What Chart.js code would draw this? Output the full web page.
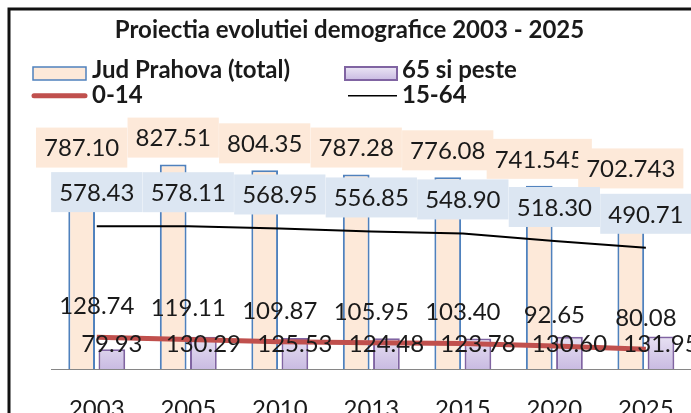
<!DOCTYPE html>
<html>
<head>
<meta charset="utf-8">
<script src="https://cdn.jsdelivr.net/npm/chart.js@4.4.1/dist/chart.umd.min.js"></script>
<style>
    html, body { margin: 0; padding: 0; background: #fff; overflow: hidden; }
    #wrap { position: relative; width: 700px; height: 422px; }
</style>
</head>
<body>
<div id="wrap"><canvas id="demoChart"></canvas></div>
<script>
// data
const years = ['2003', '2005', '2010', '2013', '2015', '2020', '2025'];
const totalJud = [787.10, 827.51, 804.35, 787.28, 776.08, 741.545, 702.743];
const age65plus = [79.93, 130.29, 125.53, 124.48, 123.78, 130.60, 131.95];
const age0to14 = [128.74, 119.11, 109.87, 105.95, 103.40, 92.65, 80.08];
const age15to64 = [578.43, 578.11, 568.95, 556.85, 548.90, 518.30, 490.71];

const textColor = '#1a1a1a';

// keep at least two decimals, more if the value has them
const fmt = (v) => {
    const dec = (String(v).split('.')[1] || '').length;
    return v.toFixed(Math.max(2, dec));
};

const purpleFill = (c) => {
    const area = c.chart.chartArea;
    if (!area) return '#d9cfea';
    const g = c.chart.ctx.createLinearGradient(0, area.bottom - 36, 0, area.bottom);
    g.addColorStop(0, '#ebe5f5');
    g.addColorStop(1, '#c9bbe2');
    return g;
};

// frame, title and legend
const framePlugin = {
    id: 'frame',
    afterDraw(chart) {
        const ctx = chart.ctx;
        ctx.save();

        ctx.fillStyle = textColor;
        ctx.font = 'bold 24px Lato';
        ctx.textAlign = 'center';
        ctx.textBaseline = 'alphabetic';
        ctx.fillText('Proiectia evolutiei demografice 2003 - 2025', 349.5, 38);

        // legend row 1
        ctx.fillStyle = '#fde9d9';
        ctx.fillRect(33, 67, 53, 13);
        ctx.strokeStyle = '#4f81bd';
        ctx.lineWidth = 1.5;
        ctx.strokeRect(33, 67, 53, 13);

        const lg = ctx.createLinearGradient(0, 67, 0, 80);
        lg.addColorStop(0, '#ebe5f5');
        lg.addColorStop(1, '#c9bbe2');
        ctx.fillStyle = lg;
        ctx.fillRect(345, 67, 52, 13);
        ctx.strokeStyle = '#8064a2';
        ctx.lineWidth = 2;
        ctx.strokeRect(345, 67, 52, 13);

        // legend row 2
        ctx.lineCap = 'round';
        ctx.strokeStyle = '#c0504d';
        ctx.lineWidth = 5;
        ctx.beginPath();
        ctx.moveTo(34, 95.7);
        ctx.lineTo(85, 95.7);
        ctx.stroke();

        ctx.lineCap = 'butt';
        ctx.strokeStyle = '#000';
        ctx.lineWidth = 1.5;
        ctx.beginPath();
        ctx.moveTo(348, 95.7);
        ctx.lineTo(397, 95.7);
        ctx.stroke();

        ctx.fillStyle = textColor;
        ctx.font = 'bold 24px Lato';
        ctx.textAlign = 'left';
        ctx.fillText('Jud Prahova (total)', 92, 78.3);
        ctx.fillText('65 si peste', 402, 78.3);
        ctx.fillText('0-14', 92, 102.7);
        ctx.fillText('15-64', 402, 102.7);

        // outer border
        ctx.strokeStyle = '#111';
        ctx.lineWidth = 3;
        ctx.strokeRect(9, 9, 900, 900);
        ctx.restore();
    }
};

// data labels, positioned from each element's own pixel position
const labelPlugin = {
    id: 'valueLabels',
    afterDatasetsDraw(chart) {
        const ctx = chart.ctx;
        const yBase = chart.scales.y.getPixelForValue(0);
        ctx.save();
        ctx.font = '24px Lato';
        ctx.textAlign = 'center';
        ctx.textBaseline = 'middle';
        chart.data.datasets.forEach((ds, di) => {
            const meta = chart.getDatasetMeta(di);
            const st = ds.labelStyle;
            meta.data.forEach((el, i) => {
                const txt = fmt(ds.data[i]);
                const y = st.fromBase ? yBase - st.offset : el.y - st.offset;
                const w = ctx.measureText(txt).width;
                if (st.bg) {
                    ctx.fillStyle = st.bg;
                    ctx.fillRect(el.x - w / 2 - 8, y - 20, w + 16, 40);
                }
                ctx.fillStyle = textColor;
                ctx.fillText(txt, el.x, y + 1);
            });
        });
        ctx.restore();
    }
};

const ctx = document.getElementById('demoChart').getContext('2d');
new Chart(ctx, {
    type: 'bar',
    data: {
        labels: years,
        datasets: [{
            label: 'Jud Prahova (total)',
            data: totalJud,
            backgroundColor: '#fde9d9',
            borderColor: '#4f81bd',
            borderWidth: 2,
            categoryPercentage: 0.66,
            barPercentage: 0.885,
            order: 2,
            labelStyle: { offset: 27, bg: '#fde9d9' }
        }, {
            label: '65 si peste',
            data: age65plus,
            backgroundColor: purpleFill,
            borderColor: '#8064a2',
            borderWidth: 2,
            categoryPercentage: 0.66,
            barPercentage: 0.885,
            order: 2,
            labelStyle: { offset: 26, fromBase: true }
        }, {
            type: 'line',
            label: '0-14',
            data: age0to14,
            borderColor: '#c0504d',
            borderWidth: 5,
            pointRadius: 0,
            tension: 0,
            order: 1,
            labelStyle: { offset: 32 }
        }, {
            type: 'line',
            label: '15-64',
            data: age15to64,
            borderColor: '#000',
            borderWidth: 2,
            pointRadius: 0,
            tension: 0,
            order: 1,
            labelStyle: { offset: 34, bg: '#dce6f2' }
        }]
    },
    options: {
        responsive: true,
        maintainAspectRatio: false,
        animation: false,
        layout: { padding: { left: 51, right: 4, top: 146.7, bottom: 0 } },
        plugins: {
            legend: { display: false },
            title: { display: false },
            tooltip: { enabled: false }
        },
        scales: {
            x: {
                grid: { display: false, drawTicks: false },
                border: { display: true, color: '#868686', width: 1 },
                ticks: { font: { family: 'Lato', size: 24 }, color: textColor, padding: 26 },
                afterFit: (scale) => { scale.height = 53; }
            },
            y: { display: false, min: 0, max: 900 }
        }
    },
    plugins: [framePlugin, labelPlugin]
});
</script>
</body>
</html>
